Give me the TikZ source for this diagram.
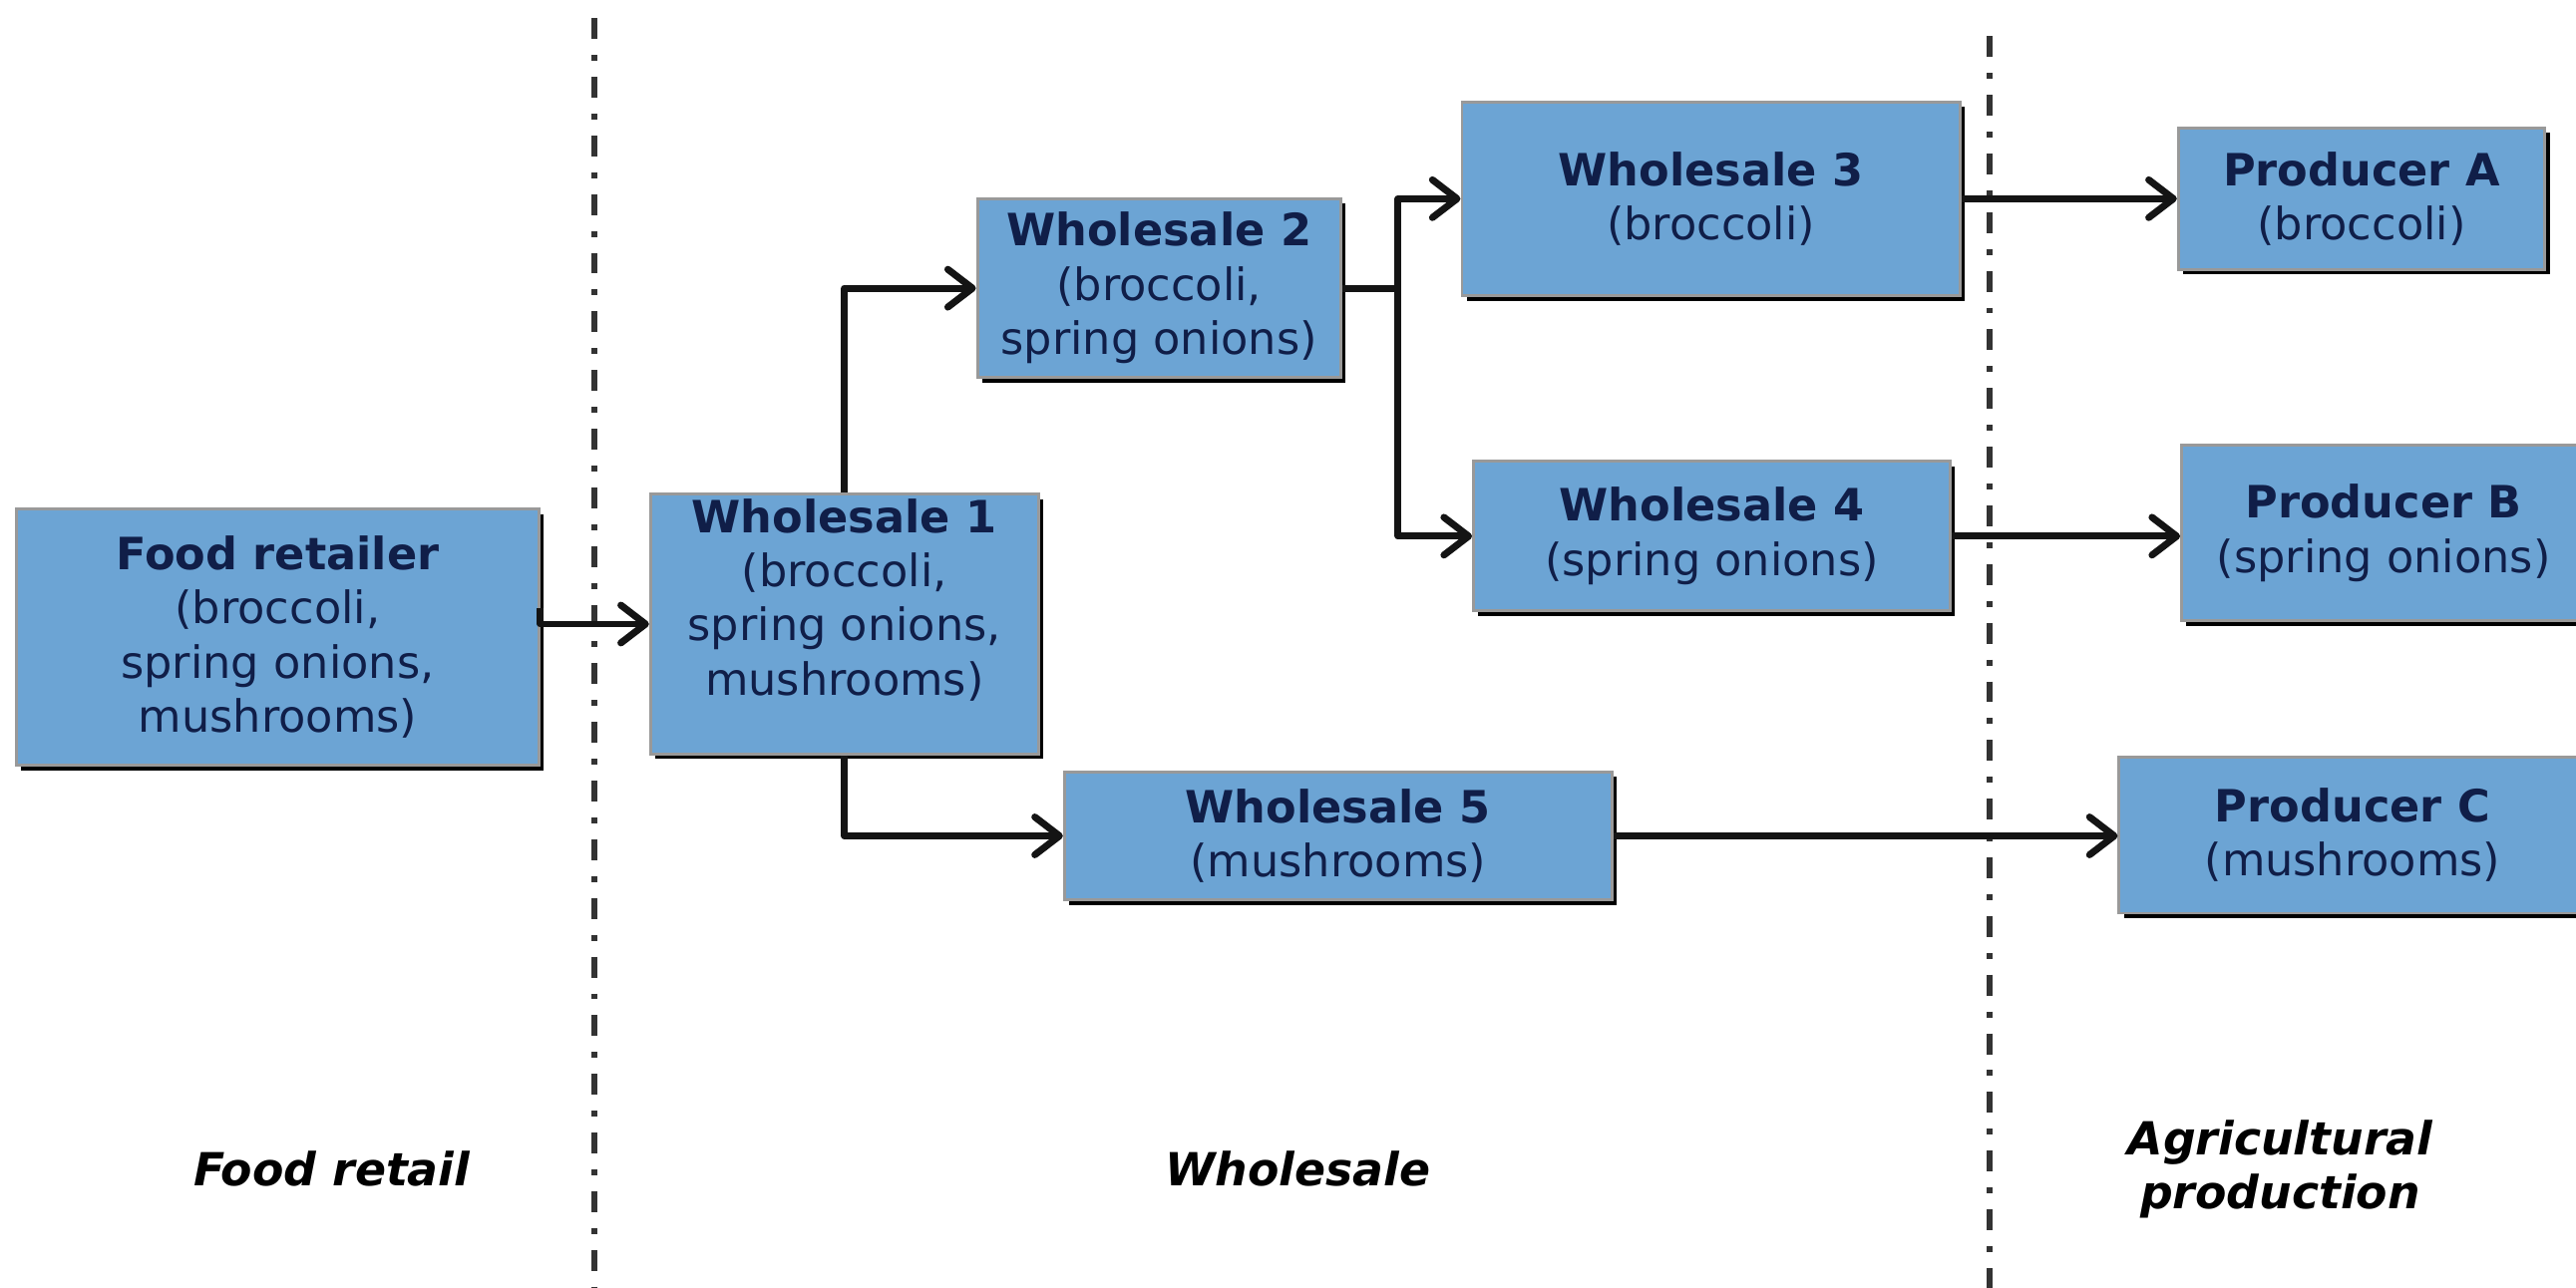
\documentclass[tikz,border=0pt]{standalone}
\usepackage{fontspec}
\setmainfont{DejaVu Sans}
\usetikzlibrary{arrows.meta,shadows}
\definecolor{boxblue}{RGB}{108,164,212}
\definecolor{navy}{RGB}{16,30,72}

\begin{document}
\begin{tikzpicture}[x=0.01cm, y=-0.01cm,
  stage/.style={rectangle, fill=boxblue, draw=gray!80, line width=0.5pt, text=navy, align=center, inner sep=0pt,
    font=\fontsize{7.7}{9.4}\selectfont,
    drop shadow={shadow xshift=0.03cm, shadow yshift=-0.03cm, fill=black, opacity=1}},
  flow/.style={line width=1.2pt, black!92, line join=round, -{Straight Barb[length=1.5mm, width=2.3mm, round]}},
  divider/.style={line width=1pt, black!80, dash pattern=on 0.127cm off 0.097cm on 0.036cm off 0.097cm},
  sector/.style={font=\fontsize{7.9}{9.4}\selectfont\bfseries\itshape, align=center}]

\useasboundingbox (0,0) rectangle (1568,784);

\draw[divider] (362,11) -- (362,784);
\draw[divider] (1211,22) -- (1211,784);

\draw
(169,388) node[stage, minimum width=3.18cm, minimum height=1.56cm](retailer){\textbf{Food retailer}\\(broccoli,\\spring onions,\\mushrooms)}
(514,380) node[stage, minimum width=2.36cm, minimum height=1.58cm](w1){\textbf{Wholesale 1}\\(broccoli,\\spring onions,\\mushrooms)\\[0pt]\mbox{}}
(705.5,175.5) node[stage, minimum width=2.21cm, minimum height=1.09cm](w2){\textbf{Wholesale 2}\\(broccoli,\\spring onions)}
(1041.5,121) node[stage, minimum width=3.03cm, minimum height=1.18cm](w3){\textbf{Wholesale 3}\\(broccoli)}
(1042,326.5) node[stage, minimum width=2.90cm, minimum height=0.91cm](w4){\textbf{Wholesale 4}\\(spring onions)}
(814.5,509) node[stage, minimum width=3.33cm, minimum height=0.78cm](w5){\textbf{Wholesale 5}\\(mushrooms)}
(1437.5,121) node[stage, minimum width=2.23cm, minimum height=0.86cm](pa){\textbf{Producer A}\\(broccoli)}
(1451,324.5) node[stage, minimum width=2.46cm, minimum height=1.07cm](pb){\textbf{Producer B}\\(spring onions)}
(1432,508.5) node[stage, minimum width=2.84cm, minimum height=0.95cm](pc){\textbf{Producer C}\\(mushrooms)};

\coordinate (fork) at (851,175.5);

\draw[flow] (retailer.east |- w1.west) ++(0,-10) -- ++(0,10) -- (w1.west);
\draw[flow] (w1.north) |- (w2.west);
\draw[flow] (w1.south) |- (w5.west);
\draw[flow] (w2.east) -- (fork) |- (w3.west);
\draw[flow] (fork) |- (w4.west);
\draw[flow] (w3) -- (pa);
\draw[flow] (w4.east) -- (pb.west |- w4.east);
\draw[flow] (w5.east) -- (pc.west |- w5.east);

\draw
(202,712) node[sector](retail){Food retail}
(790,712) node[sector](wholesale){Wholesale}
(1388,712) node[sector](farming){Agricultural\\production};

\end{tikzpicture}
\end{document}
